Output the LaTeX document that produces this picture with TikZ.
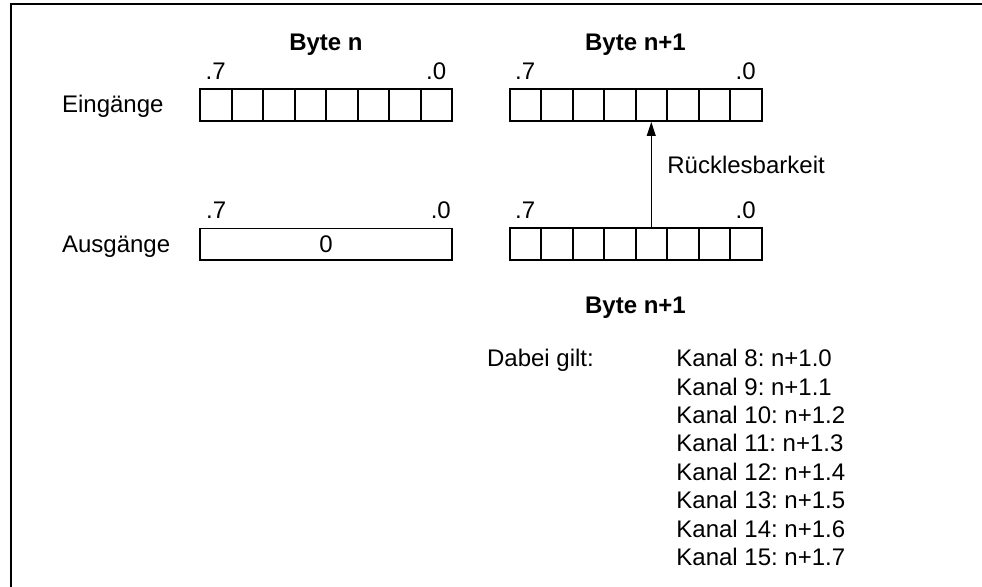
\documentclass[tikz,border=0pt]{standalone}
\usepackage{fontspec}
\setmainfont{Liberation Sans}
\usetikzlibrary{positioning,arrows.meta}
\frenchspacing

\begin{document}
\begin{tikzpicture}[x=0.5pt,y=-0.5pt,>={Triangle[length=7pt,width=4.5pt]},
  font=\fontsize{12}{14}\selectfont,
  txt/.style={inner sep=0pt},
  cell/.style={draw,line width=1pt,minimum width=15.75pt,minimum height=15.75pt,inner sep=0pt}]
\useasboundingbox (0,0) rectangle (982,587);
\draw[line width=1pt] (10.5,587) -- (10.5,4.5) -- (982,4.5);
% registers
\foreach \i in {0,...,7} {
  \pgfmathtruncatemacro\b{7-\i}
  \node[cell] (ein-n-\b) at (215.75+31.5*\i,105.2) {};
  \node[cell] (ein-m-\b) at (525.25+31.5*\i,105.2) {};
  \node[cell] (aus-m-\b) at (525.25+31.5*\i,244.2) {};
}
\node[cell,line width=0.8pt,minimum width=126pt] (aus-n) at (326,244.2) {0};
% bit numbers
\foreach \r in {ein-n,ein-m,aus-m} {
  \node[txt,anchor=base] (\r-l7) at ([yshift=4.5pt]\r-7.north) {.7};
  \node[txt,anchor=base] (\r-l0) at ([yshift=4.5pt]\r-0.north) {.0};
}
\node[txt,anchor=base] (aus-n-l7) at ([xshift=8.5pt,yshift=4.5pt]aus-n.north west) {.7};
\node[txt,anchor=base] (aus-n-l0) at ([xshift=-6pt,yshift=4.5pt]aus-n.north east) {.0};
\node[txt,anchor=base] (kopf-n) at (326,51) {\bfseries Byte n};
\node[txt,anchor=base] (kopf-m) at (635.5,51) {\bfseries Byte n+1};
\node[txt,anchor=base west] (ein) at (61.7,112.7) {Eingänge};
\node[txt,anchor=base west] (aus) at (61.7,252.3) {Ausgänge};
\draw[->,line width=0.5pt] (aus-m-3.north) -- (ein-m-3.south);
\node[txt,anchor=base west] (rueck) at (667,173.3) {Rücklesbarkeit};
% legend
\node[txt,anchor=base] (fuss-m) at (635.5,313.3) {\bfseries Byte n+1};
\node[txt,anchor=base west] (dabei) at (486.7,366.7) {Dabei gilt:};
\foreach \k [count=\j from 0] in {8,...,15}
  \node[txt,anchor=base west] (kanal-\k) at (676,366.7+28.43*\j) {Kanal \k: n+1.\j};
\end{tikzpicture}
\end{document}
